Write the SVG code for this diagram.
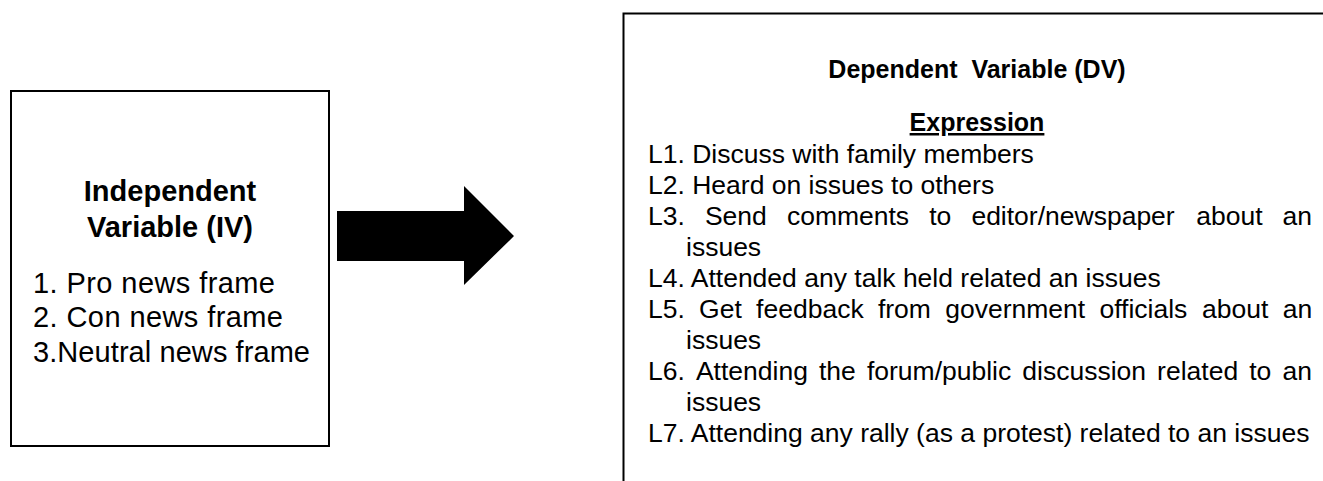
<svg xmlns="http://www.w3.org/2000/svg" width="1323" height="481" viewBox="0 0 1323 481">
  <style>
    .box { fill: #ffffff; stroke: #000000; stroke-width: 2; }
    .t { font-family: "Liberation Sans", Arial, sans-serif; fill: #000000; }
    .ivh { font-size: 29px; font-weight: bold; text-anchor: middle; }
    .ivl { font-size: 29px; }
    .dvh { font-size: 25px; font-weight: bold; text-anchor: middle; }
    .dvl { font-size: 26.5px; }
  </style>
  <rect x="0" y="0" width="1323" height="481" fill="#ffffff"/>

  <g id="iv-node">
    <rect class="box" x="11" y="91" width="318" height="355"/>
    <text class="t ivh" x="170" y="201">Independent</text>
    <text class="t ivh" x="170" y="237">Variable (IV)</text>
    <text class="t ivl" x="33" y="293" textLength="242" lengthAdjust="spacing">1. Pro news frame</text>
    <text class="t ivl" x="33" y="327" textLength="250" lengthAdjust="spacing">2. Con news frame</text>
    <text class="t ivl" x="33" y="362" textLength="277" lengthAdjust="spacing">3.Neutral news frame</text>
  </g>

  <g id="connectors">
    <polygon id="arrow" points="337,211 464,211 464,186 514,236 464,285 464,261 337,261" fill="#000000"/>
  </g>

  <g id="dv-node">
    <path d="M623.5,481 V13.5 H1323" fill="none" stroke="#000000" stroke-width="2"/>
    <text class="t dvh" x="977" y="78" xml:space="preserve">Dependent  Variable (DV)</text>
    <text class="t dvh" x="977" y="131" text-decoration="underline">Expression</text>
    <text class="t dvl" x="648" y="163">L1. Discuss with family members</text>
    <text class="t dvl" x="648" y="194">L2. Heard on issues to others</text>
    <text class="t dvl" y="225"><tspan x="648">L3.</tspan><tspan x="704.9">Send</tspan><tspan x="786.9">comments</tspan><tspan x="929.2">to</tspan><tspan x="971.4">editor/newspaper</tspan><tspan x="1196.2">about</tspan><tspan x="1282.6">an</tspan></text>
    <text class="t dvl" x="686" y="256">issues</text>
    <text class="t dvl" x="648" y="287">L4. Attended any talk held related an issues</text>
    <text class="t dvl" y="318"><tspan x="648">L5.</tspan><tspan x="699.1">Get</tspan><tspan x="756.1">feedback</tspan><tspan x="877.9">from</tspan><tspan x="945.2">government</tspan><tspan x="1099.4">officials</tspan><tspan x="1202.1">about</tspan><tspan x="1282.7">an</tspan></text>
    <text class="t dvl" x="686" y="349">issues</text>
    <text class="t dvl" y="380"><tspan x="648">L6.</tspan><tspan x="695.9">Attending</tspan><tspan x="819">the</tspan><tspan x="866.9">forum/public</tspan><tspan x="1022.3">discussion</tspan><tspan x="1157.1">related</tspan><tspan x="1249.2">to</tspan><tspan x="1282.4">an</tspan></text>
    <text class="t dvl" x="686" y="411">issues</text>
    <text class="t dvl" x="648" y="442">L7. Attending any rally (as a protest) related to an issues</text>
  </g>
</svg>
